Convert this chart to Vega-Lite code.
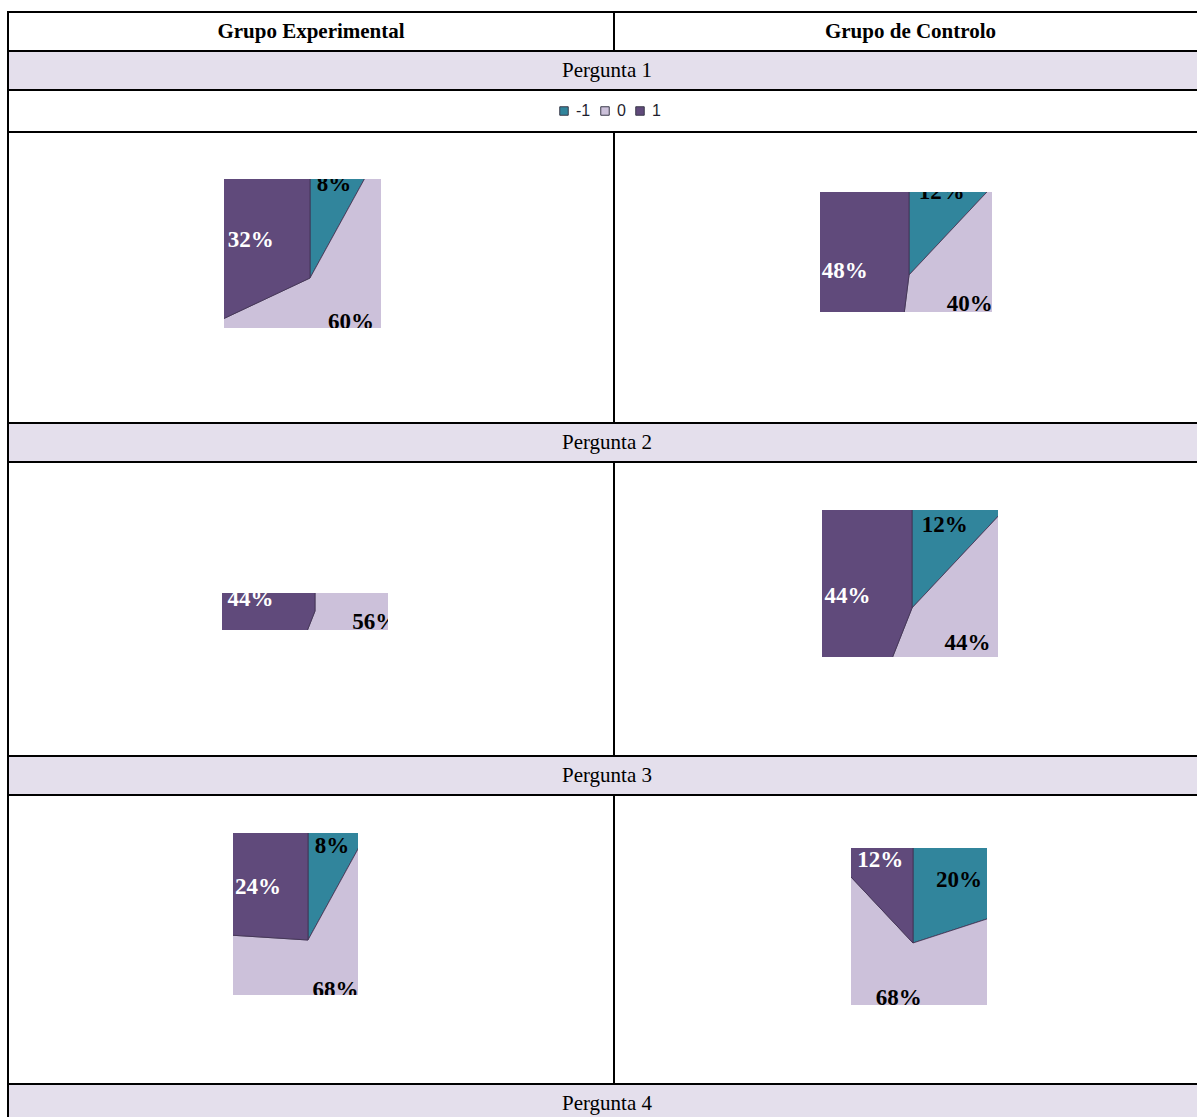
{
  "$schema": "https://vega.github.io/schema/vega-lite/v6.json",
  "padding": {"left": 7, "top": 11, "right": 0, "bottom": 0},
  "background": "white",
  "config": {
    "view": {"stroke": null},
    "concat": {"spacing": 0}
  },
  "datasets": {
    "p1e": [{"resp": -1, "share": 0.08}, {"resp": 0, "share": 0.60}, {"resp": 1, "share": 0.32}],
    "p1c": [{"resp": -1, "share": 0.12}, {"resp": 0, "share": 0.40}, {"resp": 1, "share": 0.48}],
    "p2e": [{"resp": 0, "share": 0.56}, {"resp": 1, "share": 0.44}],
    "p2c": [{"resp": -1, "share": 0.12}, {"resp": 0, "share": 0.44}, {"resp": 1, "share": 0.44}],
    "p3e": [{"resp": -1, "share": 0.08}, {"resp": 0, "share": 0.68}, {"resp": 1, "share": 0.24}],
    "p3c": [{"resp": -1, "share": 0.20}, {"resp": 0, "share": 0.68}, {"resp": 1, "share": 0.12}]
  },
  "spacing": 0,
  "vconcat": [
    {"width": 1190, "height": 2, "data": {"values": []}, "mark": "rect", "view": {"fill": "black"}},
    {"spacing": 0, "hconcat": [
      {"width": 2, "height": 37, "data": {"values": []}, "mark": "rect", "view": {"fill": "black"}},
      {"width": 604, "height": 37, "data": {"values": [{"head": "Grupo Experimental"}]},
       "mark": {"type": "text", "font": "Liberation Serif", "fontWeight": "bold", "fontSize": 21, "color": "black"},
       "encoding": {"text": {"field": "head", "type": "nominal"}}},
      {"width": 2, "height": 37, "data": {"values": []}, "mark": "rect", "view": {"fill": "black"}},
      {"width": 582, "height": 37, "data": {"values": [{"head": "Grupo de Controlo"}]},
       "mark": {"type": "text", "font": "Liberation Serif", "fontWeight": "bold", "fontSize": 21, "color": "black", "dx": 4.5},
       "encoding": {"text": {"field": "head", "type": "nominal"}}}
    ]},
    {"width": 1190, "height": 2, "data": {"values": []}, "mark": "rect", "view": {"fill": "black"}},
    {"spacing": 0, "hconcat": [
      {"width": 2, "height": 37, "data": {"values": []}, "mark": "rect", "view": {"fill": "black"}},
      {"width": 1188, "height": 37, "view": {"fill": "#E4DFEC"}, "data": {"values": [{"q": "Pergunta 1"}]},
       "mark": {"type": "text", "font": "Liberation Serif", "fontSize": 21, "color": "black", "dx": 4},
       "encoding": {"text": {"field": "q", "type": "nominal"}}}
    ]},
    {"width": 1190, "height": 2, "data": {"values": []}, "mark": "rect", "view": {"fill": "black"}},
    {"spacing": 0, "hconcat": [
      {"width": 2, "height": 40, "data": {"values": []}, "mark": "rect", "view": {"fill": "black"}},
      {"width": 1188, "height": 40, "data": {"values": []}, "mark": "rect"}
    ]},
    {"width": 1190, "height": 2, "data": {"values": []}, "mark": "rect", "view": {"fill": "black"}},
    {"spacing": 0, "hconcat": [
      {"width": 2, "height": 289, "data": {"values": []}, "mark": "rect", "view": {"fill": "black"}},
      {"spacing": 0, "vconcat": [
        {"width": 604, "height": 46, "data": {"values": []}, "mark": "rect"},
        {"spacing": 0, "hconcat": [
          {"width": 215, "height": 149, "data": {"values": []}, "mark": "rect"},
          {"width": 157, "height": 149, "data": {"name": "p1e"},
           "layer": [
             {"mark": {"type": "arc", "x": 86, "y": 99, "outerRadius": 400, "clip": true, "stroke": "#3F3151", "strokeWidth": 0.8},
              "encoding": {
                "theta": {"field": "share", "type": "quantitative", "stack": true},
                "order": {"field": "resp", "type": "quantitative"},
                "color": {"field": "resp", "type": "nominal",
                  "scale": {"domain": [-1, 0, 1], "range": ["#31859C", "#CCC1DA", "#604A7B"]},
                  "legend": {"title": null, "orient": "none", "legendX": 549, "legendY": 92, "direction": "horizontal", "symbolType": "square", "symbolSize": 72, "symbolStrokeColor": "#3A3A4A", "symbolStrokeWidth": 1, "labelFont": "Liberation Sans", "labelFontSize": 16, "labelColor": "#1F1F2F", "labelOffset": 4, "columnPadding": 6, "padding": 0}}
              }},
             {"mark": {"type": "text", "x": 86, "y": 99, "clip": true, "font": "Liberation Serif", "fontWeight": "bold", "fontSize": 23},
              "encoding": {
                "theta": {"field": "share", "type": "quantitative", "stack": true},
                "order": {"field": "resp", "type": "quantitative"},
                "detail": {"field": "resp", "type": "nominal"},
                "radius": {"field": "share", "type": "quantitative", "scale": {"type": "linear", "domain": [0.08, 0.12, 0.24, 0.68], "range": [97, 89, 73, 57], "zero": false, "nice": false, "clamp": true}},
                "text": {"field": "share", "type": "quantitative", "format": ".0%"},
                "color": {"condition": {"test": "datum.resp === 1", "value": "white"}, "value": "black"}
              }}
           ]}
        ]}
      ]},
      {"width": 2, "height": 289, "data": {"values": []}, "mark": "rect", "view": {"fill": "black"}},
      {"spacing": 0, "vconcat": [
        {"width": 582, "height": 59, "data": {"values": []}, "mark": "rect"},
        {"spacing": 0, "hconcat": [
          {"width": 205, "height": 120, "data": {"values": []}, "mark": "rect"},
          {"width": 172, "height": 120, "data": {"name": "p1c"},
           "layer": [
             {"mark": {"type": "arc", "x": 89, "y": 83, "outerRadius": 400, "clip": true, "stroke": "#3F3151", "strokeWidth": 0.8},
              "encoding": {
                "theta": {"field": "share", "type": "quantitative", "stack": true},
                "order": {"field": "resp", "type": "quantitative"},
                "color": {"field": "resp", "type": "nominal",
                  "scale": {"domain": [-1, 0, 1], "range": ["#31859C", "#CCC1DA", "#604A7B"]},
                  "legend": {"title": null, "orient": "none", "legendX": 549, "legendY": 92, "direction": "horizontal", "symbolType": "square", "symbolSize": 72, "symbolStrokeColor": "#3A3A4A", "symbolStrokeWidth": 1, "labelFont": "Liberation Sans", "labelFontSize": 16, "labelColor": "#1F1F2F", "labelOffset": 4, "columnPadding": 6, "padding": 0}}
              }},
             {"mark": {"type": "text", "x": 89, "y": 83, "clip": true, "font": "Liberation Serif", "fontWeight": "bold", "fontSize": 23},
              "encoding": {
                "theta": {"field": "share", "type": "quantitative", "stack": true},
                "order": {"field": "resp", "type": "quantitative"},
                "detail": {"field": "resp", "type": "nominal"},
                "radius": {"field": "share", "type": "quantitative", "scale": {"type": "linear", "domain": [0.08, 0.12, 0.24, 0.68], "range": [97, 89, 73, 57], "zero": false, "nice": false, "clamp": true}},
                "text": {"field": "share", "type": "quantitative", "format": ".0%"},
                "color": {"condition": {"test": "datum.resp === 1", "value": "white"}, "value": "black"}
              }}
           ]}
        ]}
      ]}
    ]},
    {"width": 1190, "height": 2, "data": {"values": []}, "mark": "rect", "view": {"fill": "black"}},
    {"spacing": 0, "hconcat": [
      {"width": 2, "height": 37, "data": {"values": []}, "mark": "rect", "view": {"fill": "black"}},
      {"width": 1188, "height": 37, "view": {"fill": "#E4DFEC"}, "data": {"values": [{"q": "Pergunta 2"}]},
       "mark": {"type": "text", "font": "Liberation Serif", "fontSize": 21, "color": "black", "dx": 4},
       "encoding": {"text": {"field": "q", "type": "nominal"}}}
    ]},
    {"width": 1190, "height": 2, "data": {"values": []}, "mark": "rect", "view": {"fill": "black"}},
    {"spacing": 0, "hconcat": [
      {"width": 2, "height": 292, "data": {"values": []}, "mark": "rect", "view": {"fill": "black"}},
      {"spacing": 0, "vconcat": [
        {"width": 604, "height": 130, "data": {"values": []}, "mark": "rect"},
        {"spacing": 0, "hconcat": [
          {"width": 213, "height": 37, "data": {"values": []}, "mark": "rect"},
          {"width": 166, "height": 37, "data": {"name": "p2e"},
           "layer": [
             {"mark": {"type": "arc", "x": 93, "y": 18, "outerRadius": 400, "clip": true, "stroke": "#3F3151", "strokeWidth": 0.8},
              "encoding": {
                "theta": {"field": "share", "type": "quantitative", "stack": true},
                "order": {"field": "resp", "type": "quantitative"},
                "color": {"field": "resp", "type": "nominal",
                  "scale": {"domain": [-1, 0, 1], "range": ["#31859C", "#CCC1DA", "#604A7B"]},
                  "legend": {"title": null, "orient": "none", "legendX": 549, "legendY": 92, "direction": "horizontal", "symbolType": "square", "symbolSize": 72, "symbolStrokeColor": "#3A3A4A", "symbolStrokeWidth": 1, "labelFont": "Liberation Sans", "labelFontSize": 16, "labelColor": "#1F1F2F", "labelOffset": 4, "columnPadding": 6, "padding": 0}}
              }},
             {"mark": {"type": "text", "x": 93, "y": 18, "clip": true, "font": "Liberation Serif", "fontWeight": "bold", "fontSize": 23},
              "encoding": {
                "theta": {"field": "share", "type": "quantitative", "stack": true},
                "order": {"field": "resp", "type": "quantitative"},
                "detail": {"field": "resp", "type": "nominal"},
                "radius": {"field": "share", "type": "quantitative", "scale": {"type": "linear", "domain": [0.08, 0.12, 0.24, 0.68], "range": [97, 89, 73, 57], "zero": false, "nice": false, "clamp": true}},
                "text": {"field": "share", "type": "quantitative", "format": ".0%"},
                "color": {"condition": {"test": "datum.resp === 1", "value": "white"}, "value": "black"}
              }}
           ]}
        ]}
      ]},
      {"width": 2, "height": 292, "data": {"values": []}, "mark": "rect", "view": {"fill": "black"}},
      {"spacing": 0, "vconcat": [
        {"width": 582, "height": 47, "data": {"values": []}, "mark": "rect"},
        {"spacing": 0, "hconcat": [
          {"width": 207, "height": 147, "data": {"values": []}, "mark": "rect"},
          {"width": 176, "height": 147, "data": {"name": "p2c"},
           "layer": [
             {"mark": {"type": "arc", "x": 90, "y": 98, "outerRadius": 400, "clip": true, "stroke": "#3F3151", "strokeWidth": 0.8},
              "encoding": {
                "theta": {"field": "share", "type": "quantitative", "stack": true},
                "order": {"field": "resp", "type": "quantitative"},
                "color": {"field": "resp", "type": "nominal",
                  "scale": {"domain": [-1, 0, 1], "range": ["#31859C", "#CCC1DA", "#604A7B"]},
                  "legend": {"title": null, "orient": "none", "legendX": 549, "legendY": 92, "direction": "horizontal", "symbolType": "square", "symbolSize": 72, "symbolStrokeColor": "#3A3A4A", "symbolStrokeWidth": 1, "labelFont": "Liberation Sans", "labelFontSize": 16, "labelColor": "#1F1F2F", "labelOffset": 4, "columnPadding": 6, "padding": 0}}
              }},
             {"mark": {"type": "text", "x": 90, "y": 98, "clip": true, "font": "Liberation Serif", "fontWeight": "bold", "fontSize": 23},
              "encoding": {
                "theta": {"field": "share", "type": "quantitative", "stack": true},
                "order": {"field": "resp", "type": "quantitative"},
                "detail": {"field": "resp", "type": "nominal"},
                "radius": {"field": "share", "type": "quantitative", "scale": {"type": "linear", "domain": [0.08, 0.12, 0.24, 0.68], "range": [97, 89, 73, 57], "zero": false, "nice": false, "clamp": true}},
                "text": {"field": "share", "type": "quantitative", "format": ".0%"},
                "color": {"condition": {"test": "datum.resp === 1", "value": "white"}, "value": "black"}
              }}
           ]}
        ]}
      ]}
    ]},
    {"width": 1190, "height": 2, "data": {"values": []}, "mark": "rect", "view": {"fill": "black"}},
    {"spacing": 0, "hconcat": [
      {"width": 2, "height": 37, "data": {"values": []}, "mark": "rect", "view": {"fill": "black"}},
      {"width": 1188, "height": 37, "view": {"fill": "#E4DFEC"}, "data": {"values": [{"q": "Pergunta 3"}]},
       "mark": {"type": "text", "font": "Liberation Serif", "fontSize": 21, "color": "black", "dx": 4},
       "encoding": {"text": {"field": "q", "type": "nominal"}}}
    ]},
    {"width": 1190, "height": 2, "data": {"values": []}, "mark": "rect", "view": {"fill": "black"}},
    {"spacing": 0, "hconcat": [
      {"width": 2, "height": 287, "data": {"values": []}, "mark": "rect", "view": {"fill": "black"}},
      {"spacing": 0, "vconcat": [
        {"width": 604, "height": 37, "data": {"values": []}, "mark": "rect"},
        {"spacing": 0, "hconcat": [
          {"width": 224, "height": 162, "data": {"values": []}, "mark": "rect"},
          {"width": 125, "height": 162, "data": {"name": "p3e"},
           "layer": [
             {"mark": {"type": "arc", "x": 75, "y": 107, "outerRadius": 400, "clip": true, "stroke": "#3F3151", "strokeWidth": 0.8},
              "encoding": {
                "theta": {"field": "share", "type": "quantitative", "stack": true},
                "order": {"field": "resp", "type": "quantitative"},
                "color": {"field": "resp", "type": "nominal",
                  "scale": {"domain": [-1, 0, 1], "range": ["#31859C", "#CCC1DA", "#604A7B"]},
                  "legend": {"title": null, "orient": "none", "legendX": 549, "legendY": 92, "direction": "horizontal", "symbolType": "square", "symbolSize": 72, "symbolStrokeColor": "#3A3A4A", "symbolStrokeWidth": 1, "labelFont": "Liberation Sans", "labelFontSize": 16, "labelColor": "#1F1F2F", "labelOffset": 4, "columnPadding": 6, "padding": 0}}
              }},
             {"mark": {"type": "text", "x": 75, "y": 107, "clip": true, "font": "Liberation Serif", "fontWeight": "bold", "fontSize": 23},
              "encoding": {
                "theta": {"field": "share", "type": "quantitative", "stack": true},
                "order": {"field": "resp", "type": "quantitative"},
                "detail": {"field": "resp", "type": "nominal"},
                "radius": {"field": "share", "type": "quantitative", "scale": {"type": "linear", "domain": [0.08, 0.12, 0.24, 0.68], "range": [97, 89, 73, 57], "zero": false, "nice": false, "clamp": true}},
                "text": {"field": "share", "type": "quantitative", "format": ".0%"},
                "color": {"condition": {"test": "datum.resp === 1", "value": "white"}, "value": "black"}
              }}
           ]}
        ]}
      ]},
      {"width": 2, "height": 287, "data": {"values": []}, "mark": "rect", "view": {"fill": "black"}},
      {"spacing": 0, "vconcat": [
        {"width": 582, "height": 52, "data": {"values": []}, "mark": "rect"},
        {"spacing": 0, "hconcat": [
          {"width": 236, "height": 157, "data": {"values": []}, "mark": "rect"},
          {"width": 136, "height": 157, "data": {"name": "p3c"},
           "layer": [
             {"mark": {"type": "arc", "x": 62, "y": 95, "outerRadius": 400, "clip": true, "stroke": "#3F3151", "strokeWidth": 0.8},
              "encoding": {
                "theta": {"field": "share", "type": "quantitative", "stack": true},
                "order": {"field": "resp", "type": "quantitative"},
                "color": {"field": "resp", "type": "nominal",
                  "scale": {"domain": [-1, 0, 1], "range": ["#31859C", "#CCC1DA", "#604A7B"]},
                  "legend": {"title": null, "orient": "none", "legendX": 549, "legendY": 92, "direction": "horizontal", "symbolType": "square", "symbolSize": 72, "symbolStrokeColor": "#3A3A4A", "symbolStrokeWidth": 1, "labelFont": "Liberation Sans", "labelFontSize": 16, "labelColor": "#1F1F2F", "labelOffset": 4, "columnPadding": 6, "padding": 0}}
              }},
             {"mark": {"type": "text", "x": 62, "y": 95, "clip": true, "font": "Liberation Serif", "fontWeight": "bold", "fontSize": 23},
              "encoding": {
                "theta": {"field": "share", "type": "quantitative", "stack": true},
                "order": {"field": "resp", "type": "quantitative"},
                "detail": {"field": "resp", "type": "nominal"},
                "radius": {"field": "share", "type": "quantitative", "scale": {"type": "linear", "domain": [0.08, 0.12, 0.24, 0.68], "range": [97, 89, 73, 57], "zero": false, "nice": false, "clamp": true}},
                "text": {"field": "share", "type": "quantitative", "format": ".0%"},
                "color": {"condition": {"test": "datum.resp === 1", "value": "white"}, "value": "black"}
              }}
           ]}
        ]}
      ]}
    ]},
    {"width": 1190, "height": 2, "data": {"values": []}, "mark": "rect", "view": {"fill": "black"}},
    {"spacing": 0, "hconcat": [
      {"width": 2, "height": 32, "data": {"values": []}, "mark": "rect", "view": {"fill": "black"}},
      {"width": 1188, "height": 32, "view": {"fill": "#E4DFEC"}, "data": {"values": [{"q": "Pergunta 4"}]},
       "mark": {"type": "text", "font": "Liberation Serif", "fontSize": 21, "color": "black", "dx": 4, "dy": 3},
       "encoding": {"text": {"field": "q", "type": "nominal"}}}
    ]}
  ]
}
